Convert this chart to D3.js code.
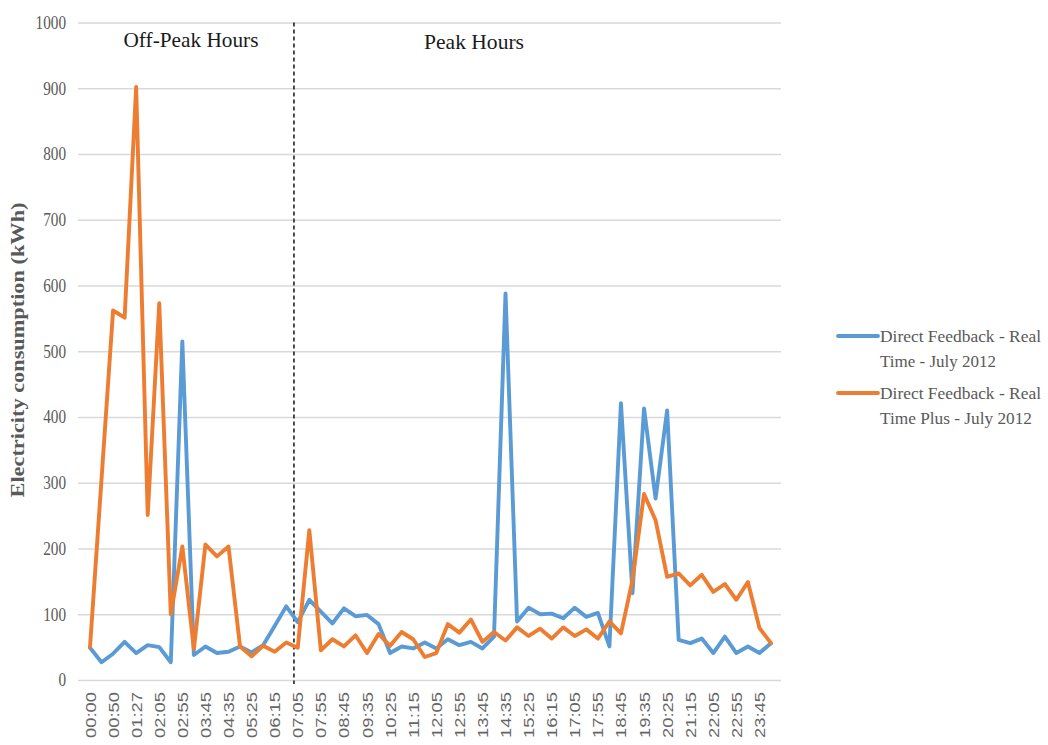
<!DOCTYPE html>
<html><head><meta charset="utf-8">
<script src="https://cdn.jsdelivr.net/npm/d3@7"></script>
<style>
html,body{margin:0;padding:0;background:#fff;}
svg{display:block;}
</style></head>
<body>
<svg id="chart" width="1048" height="745"></svg>
<script>
// ---- data ----
const tickLabels = ["00:00","00:50","01:27","02:05","02:55","03:45","04:35","05:25","06:15","07:05",
  "07:55","08:45","09:35","10:25","11:15","12:05","12:55","13:45","14:35","15:25",
  "16:15","17:05","17:55","18:45","19:35","20:25","21:15","22:05","22:55","23:45"];
const realTime = [49,27,40,58,41,53,50,27,515,38,
  51,41,43,51,42,53,82,112,88,122,
  104,86,109,97,99,85,41,51,48,57,
  48,62,53,58,48,66,588,89,110,100,
  101,94,110,96,102,51,421,132,413,276,
  410,61,56,63,41,66,41,51,41,56];
const realTimePlus = [50,306,562,551,902,251,573,100,203,47,
  206,188,203,51,36,52,43,57,49,228,
  45,62,51,68,41,70,52,73,62,35,
  41,85,72,92,58,73,60,80,67,78,
  63,80,67,77,63,89,71,152,283,243,
  157,162,144,160,134,146,122,149,79,56];
const seriesNames = [["Direct Feedback - Real","Time - July 2012"],["Direct Feedback - Real","Time Plus - July 2012"]];
const yTicks = [0,100,200,300,400,500,600,700,800,900,1000];
const periodLabels = ["Off-Peak Hours","Peak Hours"];

// ---- layout ----
const svg = d3.select("#chart");
const plotL = 78, plotR = 781, plotTop = 22.5, plotBot = 680;
const idx = d3.range(realTime.length);
const x = d3.scalePoint().domain(idx).range([90, 771]);
const y = d3.scaleLinear().domain([0, 1000]).range([plotBot, plotTop]);
const blue = "#5B9BD5", orange = "#ED7D31", grey = "#595959";

// gridlines + y axis
const yAxis = d3.axisLeft(y).tickValues(yTicks).tickSize(-(plotR - plotL)).tickPadding(12).tickFormat(d3.format("d"));
const gy = svg.append("g").attr("transform", `translate(${plotL},0)`).call(yAxis);
gy.select(".domain").remove();
gy.selectAll(".tick line").attr("stroke", "#D9D9D9").attr("stroke-width", 1.3);
gy.selectAll(".tick text")
  .attr("font-family", "Liberation Serif").attr("font-size", 18).attr("fill", grey)
  .attr("textLength", d => String(d).length * 7.6).attr("lengthAdjust", "spacingAndGlyphs");

// x axis
const xAxis = d3.axisBottom(x).tickValues(idx.filter(i => i % 2 === 0)).tickSize(0)
  .tickFormat(i => tickLabels[i / 2]);
const gx = svg.append("g").attr("transform", `translate(0,${plotBot})`).call(xAxis);
gx.select(".domain").remove();
gx.selectAll(".tick text")
  .attr("font-family", "Liberation Sans").attr("font-size", 14).attr("fill", "#666")
  .attr("transform", "rotate(-90)").attr("text-anchor", "end")
  .attr("x", -12).attr("y", 0).attr("dy", "0.36em")
  .attr("textLength", 46).attr("lengthAdjust", "spacingAndGlyphs");

// divider between off-peak and peak
const divX = x(17) + 0.67 * x.step();
svg.append("line").attr("x1", divX).attr("x2", divX).attr("y1", plotTop).attr("y2", plotBot + 4)
  .attr("stroke", "#222").attr("stroke-width", 1.6).attr("stroke-dasharray", "4,3");

// lines
const line = d3.line().x((d, i) => x(i)).y(d => y(d));
svg.append("path").datum(realTime).attr("d", line).attr("fill", "none")
  .attr("stroke", blue).attr("stroke-width", 3.9).attr("stroke-linejoin", "round").attr("stroke-linecap", "round");
svg.append("path").datum(realTimePlus).attr("d", line).attr("fill", "none")
  .attr("stroke", orange).attr("stroke-width", 3.9).attr("stroke-linejoin", "round").attr("stroke-linecap", "round");

// period labels
svg.append("text").text(periodLabels[0]).attr("x", 191).attr("y", 47)
  .attr("text-anchor", "middle").attr("font-family", "Liberation Serif").attr("font-size", 22)
  .attr("fill", "#1a1a1a").attr("textLength", 135).attr("lengthAdjust", "spacingAndGlyphs");
svg.append("text").text(periodLabels[1]).attr("x", 474).attr("y", 49)
  .attr("text-anchor", "middle").attr("font-family", "Liberation Serif").attr("font-size", 22)
  .attr("fill", "#1a1a1a").attr("textLength", 100).attr("lengthAdjust", "spacingAndGlyphs");

// y axis title
svg.append("text").text("Electricity consumption (kWh)")
  .attr("transform", "translate(24,350) rotate(-90)").attr("text-anchor", "middle")
  .attr("font-family", "Liberation Serif").attr("font-weight", "bold").attr("font-size", 18)
  .attr("fill", grey).attr("textLength", 295).attr("lengthAdjust", "spacingAndGlyphs");

// legend
const legendY = [336, 393];
[blue, orange].forEach((c, k) => {
  const ly = legendY[k];
  svg.append("line").attr("x1", 838).attr("x2", 878).attr("y1", ly).attr("y2", ly)
    .attr("stroke", c).attr("stroke-width", 3.9).attr("stroke-linecap", "round");
  seriesNames[k].forEach((t, j) => {
    svg.append("text").text(t).attr("x", 880).attr("y", ly + j * 25 + 6)
      .attr("font-family", "Liberation Serif").attr("font-size", 17.5).attr("fill", grey)
      .attr("textLength", j === 0 ? 161 : (k === 0 ? 116 : 152)).attr("lengthAdjust", "spacingAndGlyphs");
  });
});
</script>
</body></html>
